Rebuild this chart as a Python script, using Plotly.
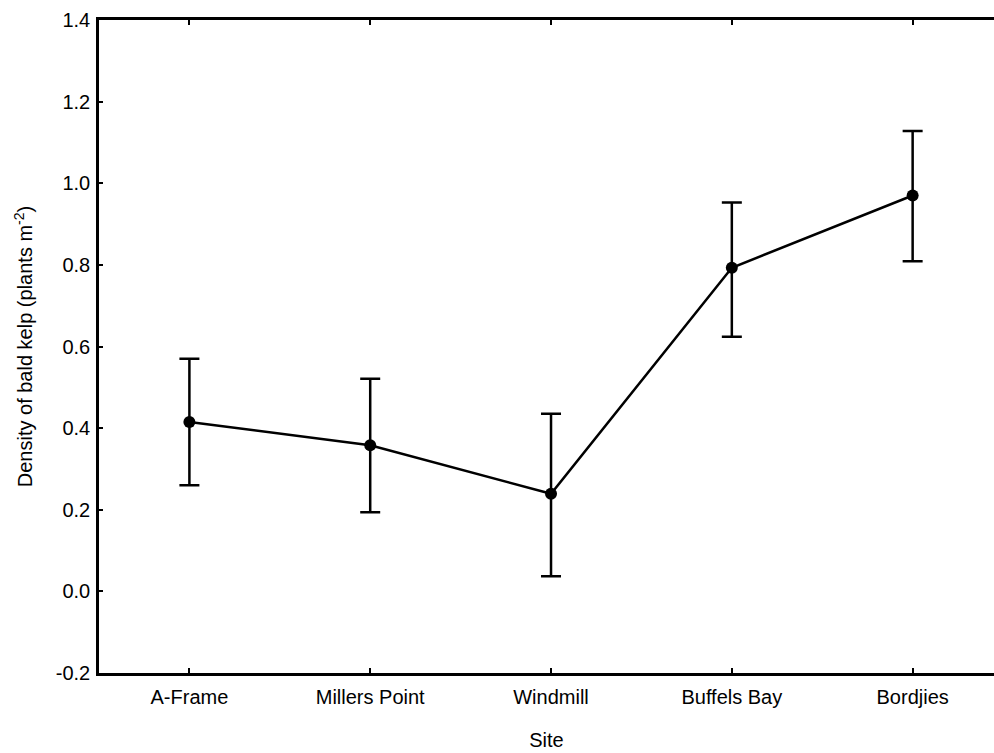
import plotly.graph_objects as go

sites = ["A-Frame", "Millers Point", "Windmill", "Buffels Bay", "Bordjies"]
mean = [0.415, 0.358, 0.239, 0.793, 0.970]
upper = [0.570, 0.521, 0.435, 0.953, 1.128]
lower = [0.260, 0.194, 0.037, 0.624, 0.809]
ytickvals = [-0.2, 0.0, 0.2, 0.4, 0.6, 0.8, 1.0, 1.2, 1.4]
yticktext = ["-0.2", "0.0", "0.2", "0.4", "0.6", "0.8", "1.0", "1.2", "1.4"]

err_plus = [u - m for u, m in zip(upper, mean)]
err_minus = [m - l for m, l in zip(mean, lower)]

fig = go.Figure()
fig.add_trace(go.Scatter(
    x=list(range(len(sites))), y=mean, mode="lines+markers",
    line=dict(color="black", width=2.5),
    marker=dict(color="black", size=12),
    error_y=dict(type="data", symmetric=False, array=err_plus, arrayminus=err_minus,
                 color="black", thickness=2.5, width=10),
    showlegend=False,
))

font = dict(family="Liberation Sans, Arial, sans-serif", size=20, color="black")
fig.update_layout(
    width=994, height=753,
    margin=dict(l=99, r=0, t=20, b=80),
    paper_bgcolor="white", plot_bgcolor="white",
    font=font,
    xaxis=dict(
        range=[-0.5, 4.45], tickmode="array", tickvals=list(range(len(sites))), ticktext=sites,
        showgrid=False, zeroline=False, showline=True, linecolor="black", linewidth=2.5,
        mirror="ticks", ticks="inside", ticklen=5, tickwidth=2, tickcolor="black",
        title=dict(text="Site", standoff=27, font=font), tickfont=font,
        ticklabelstandoff=4,
    ),
    yaxis=dict(
        range=[-0.2, 1.4], tickmode="array", tickvals=ytickvals, ticktext=yticktext,
        showgrid=False, zeroline=False, showline=True, linecolor="black",
        linewidth=2.5, ticks="inside", ticklen=4, tickwidth=2, tickcolor="black",
        title=dict(text="Density of bald kelp (plants m<sup>-2</sup>)", standoff=18, font=font),
        tickfont=font, ticklabelstandoff=2,
    ),
)

fig.write_html("out.html")
